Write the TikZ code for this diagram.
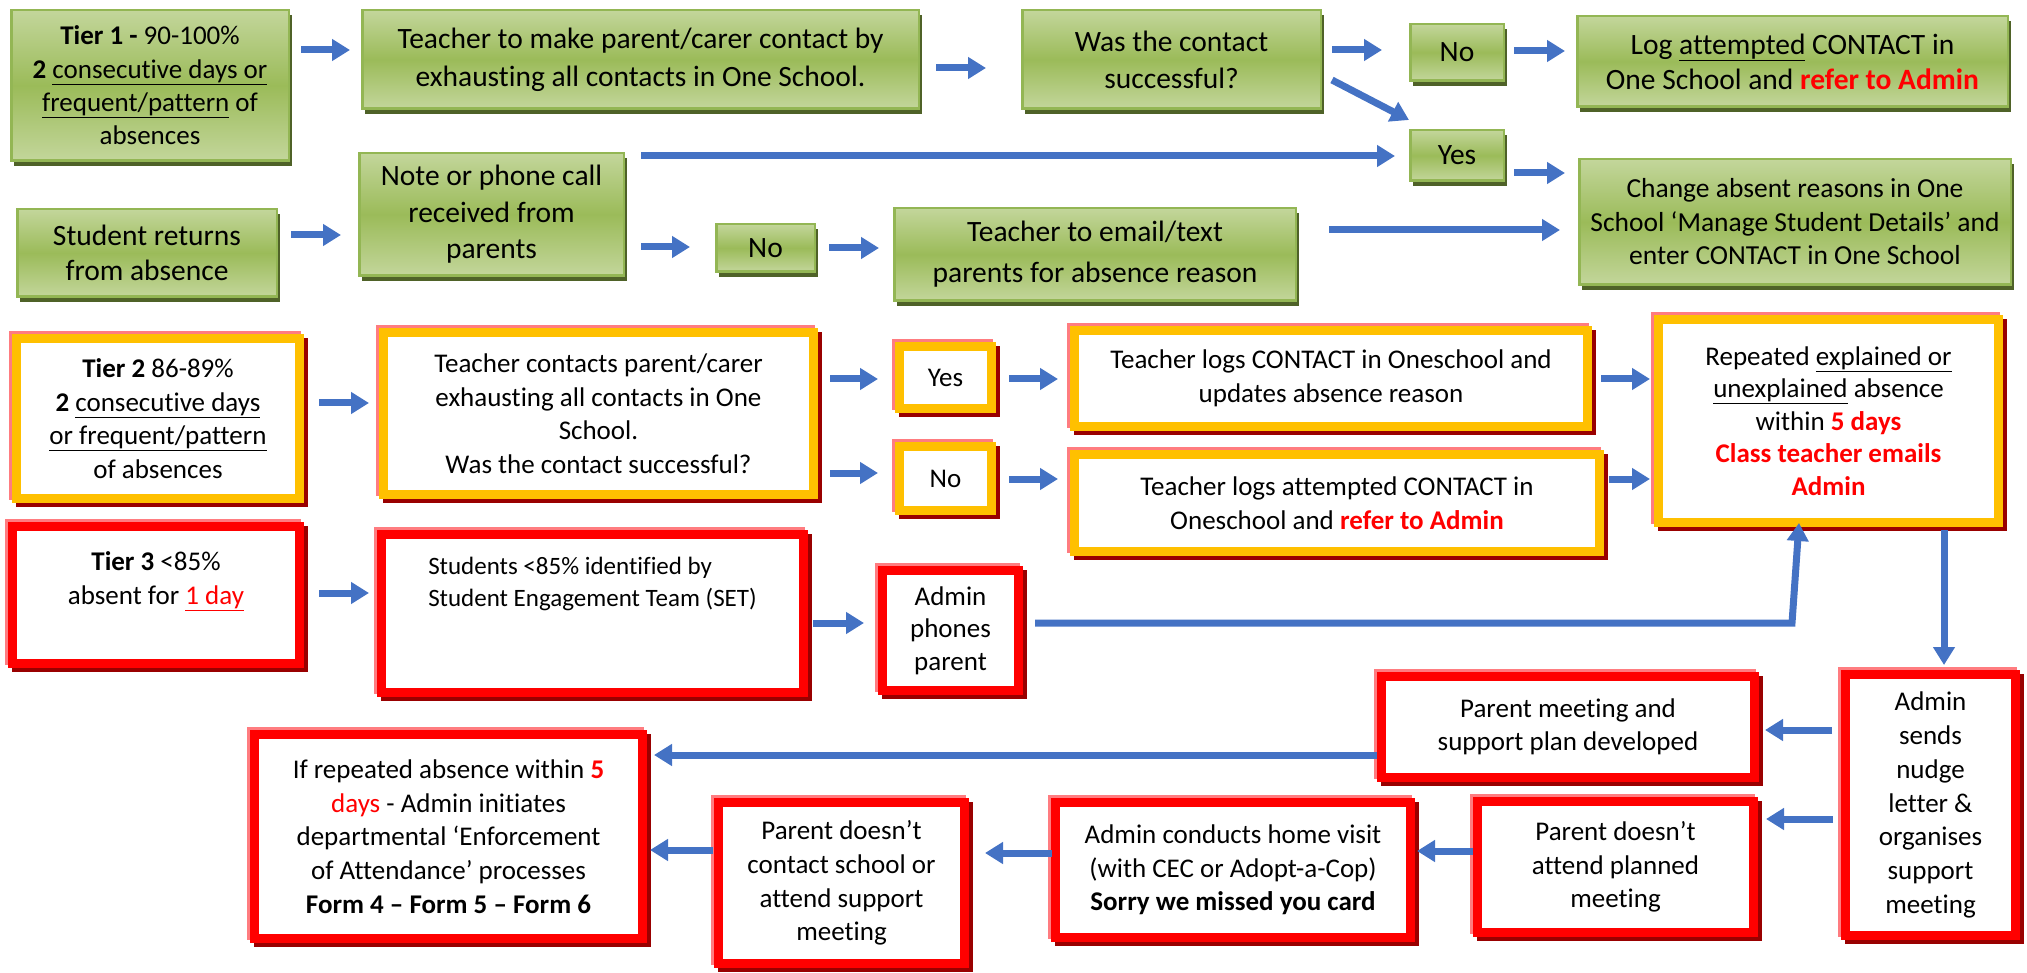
\documentclass[tikz,border=0pt]{standalone}
\usepackage{fontspec}
\setmainfont{Carlito}[Ligatures=NoCommon]
\usetikzlibrary{arrows.meta,calc}
\definecolor{glight}{HTML}{C3D69B}
\definecolor{gmid}{HTML}{9BBB59}
\definecolor{gborder}{HTML}{93B654}
\definecolor{gshadow}{HTML}{4F6228}
\definecolor{orng}{HTML}{FFC000}
\definecolor{pinkl}{HTML}{FF7C80}
\definecolor{dred}{HTML}{990000}
\definecolor{bred}{HTML}{FF0000}
\definecolor{ablue}{HTML}{4472C4}
\tikzset{
  gbox/.style={rectangle, draw=gborder, line width=2.5pt, outer sep=1.25pt, inner sep=0pt,
    top color=glight, bottom color=glight, middle color=gmid, align=center, text=black,
    font=\fontsize{29.5}{37}\selectfont,
    preaction={fill=gshadow, transform canvas={shift={(3pt,-5pt)}}}},
  obox/.style={rectangle, draw=orng, line width=9pt, outer sep=4.5pt, inner sep=0pt,
    fill=white, align=center, text=black,
    font=\fontsize{27}{33.5}\selectfont,
    preaction={draw=pinkl, line width=9pt, transform canvas={shift={(-3pt,3pt)}}},
    preaction={draw=dred, line width=9pt, transform canvas={shift={(4pt,-4pt)}}}},
  rbox/.style={obox, draw=bred},
  conn/.style={draw=ablue, line width=7pt, -{Triangle[length=18pt,width=21pt]}},
}
\newcommand{\rt}[1]{\textcolor{bred}{\textbf{#1}}}
\begin{document}
\begin{tikzpicture}[x=1pt,y=-1pt]
\useasboundingbox (0,0) rectangle (2027,973);
% ---------- green tier 1 area ----------
\node[gbox, minimum width=277.5pt, minimum height=150.5pt, font=\fontsize{27}{33.3}\selectfont] (t1) at (150,85.5)
  {\textbf{Tier 1 -} 90-100\%\\\textbf{2} \underline{consecutive days or}\\\underline{frequent/pattern} of\\absences};
\node[gbox, minimum width=556.5pt, minimum height=98.5pt, font=\fontsize{29.5}{38}\selectfont] (tmake) at (640.5,59.5)
  {Teacher to make parent/carer contact by\\exhausting all contacts in One School.};
\node[gbox, minimum width=298.5pt, minimum height=98.5pt] (was) at (1171.5,59.5)
  {Was the contact\\successful?};
\node[gbox, minimum width=93.5pt, minimum height=56.5pt] (no1) at (1457,52.5) {No};
\node[gbox, minimum width=430.5pt, minimum height=90.5pt, font=\fontsize{29.5}{35}\selectfont] (log) at (1792.5,61.5)
  {Log \underline{attempted} CONTACT in\\One School and \rt{refer to Admin}};
\node[gbox, minimum width=93.5pt, minimum height=50.5pt] (yes1) at (1457,155.5) {Yes};
\node[gbox, minimum width=431.5pt, minimum height=125.5pt, font=\fontsize{27.5}{33.5}\selectfont] (change) at (1795,222)
  {Change absent reasons in One\\School ‘Manage Student Details’ and\\enter CONTACT in One School};
\node[gbox, minimum width=259.5pt, minimum height=87.5pt, font=\fontsize{29.5}{35}\selectfont] (sr) at (147,253)
  {Student returns\\from absence};
\node[gbox, minimum width=264.5pt, minimum height=122.5pt, font=\fontsize{29.5}{36.5}\selectfont] (note) at (491.5,214.5)
  {Note or phone call\\received from\\parents};
\node[gbox, minimum width=98.5pt, minimum height=47.5pt] (no2) at (765.5,248) {No};
\node[gbox, minimum width=401.5pt, minimum height=92.5pt, font=\fontsize{29.5}{41}\selectfont] (email) at (1095,254.5)
  {Teacher to email/text\\parents for absence reason};
% ---------- tier 2 ----------
\node[obox, minimum width=283pt, minimum height=160pt] (t2) at (158,418.5)
  {\textbf{Tier 2} 86-89\%\\\textbf{2} \underline{consecutive days}\\\underline{or frequent/pattern}\\of absences};
\node[obox, minimum width=430pt, minimum height=162pt] (tc) at (598.5,413.5)
  {Teacher contacts parent/carer\\exhausting all contacts in One\\School.\\Was the contact successful?};
\node[obox, minimum width=92pt, minimum height=62pt] (yes2) at (945.5,377.5) {Yes};
\node[obox, minimum width=513pt, minimum height=96pt] (tlogs) at (1331,378.5)
  {Teacher logs CONTACT in Oneschool and\\updates absence reason};
\node[obox, minimum width=92pt, minimum height=64pt] (no3) at (945.5,478.5) {No};
\node[obox, minimum width=525pt, minimum height=97pt] (tlatt) at (1337,503)
  {Teacher logs attempted CONTACT in\\Oneschool and \rt{refer to Admin}};
\node[obox, minimum width=340pt, minimum height=203pt, font=\fontsize{27}{32.5}\selectfont] (rep) at (1828.5,421)
  {Repeated \underline{explained or}\\\underline{unexplained} absence\\within \rt{5 days}\\\rt{Class teacher emails}\\\rt{Admin}};
% ---------- tier 3 ----------
\node[rbox, minimum width=287pt, minimum height=137pt] (t3) at (156,595)
  {\textbf{Tier 3} <85\%\\absent for \textcolor{bred}{\underline{1 day}}\\\mbox{}};
\node[rbox, minimum width=422pt, minimum height=158pt, align=left, font=\fontsize{25}{32}\selectfont] (stu) at (592.5,613.5)
  {Students <85\% identified by\\Student Engagement Team (SET)\\\mbox{}\\\mbox{}};
\node[rbox, minimum width=136pt, minimum height=120pt, font=\fontsize{27}{32.5}\selectfont] (ap) at (950.5,630.5)
  {Admin\\phones\\parent};
\node[rbox, minimum width=373pt, minimum height=101pt] (pm) at (1568,727)
  {Parent meeting and\\support plan developed};
\node[rbox, minimum width=170pt, minimum height=261pt, font=\fontsize{27}{33.7}\selectfont] (ans) at (1930.5,805)
  {Admin\\sends\\nudge\\letter \&\\organises\\support\\meeting};
\node[rbox, minimum width=276pt, minimum height=131pt] (pda) at (1615.5,867)
  {Parent doesn’t\\attend planned\\meeting};
\node[rbox, minimum width=355pt, minimum height=135pt] (ac) at (1233,870)
  {Admin conducts home visit\\(with CEC or Adopt-a-Cop)\\\textbf{Sorry we missed you card}};
\node[rbox, minimum width=246pt, minimum height=161pt, font=\fontsize{27}{33.7}\selectfont] (pdc) at (841.5,883)
  {Parent doesn’t\\contact school or\\attend support\\meeting};
\node[rbox, minimum width=388pt, minimum height=204pt, font=\fontsize{27}{33.7}\selectfont] (ifr) at (448.5,836.5)
  {If repeated absence within \textcolor{bred}{\textbf{5}}\\\textcolor{bred}{days} - Admin initiates\\departmental ‘Enforcement\\of Attendance’ processes\\\textbf{Form 4 – Form 5 – Form 6}};
% ---------- connectors ----------
\draw[conn] ($(t1.east)+(11,-35.5)$) -- ($(tmake.west)+(-11,-9.5)$);
\draw[conn] ($(tmake.east)+(16,8.5)$) -- ($(was.west)+(-35,8.5)$);
\draw[conn] ($(was.east)+(10,-9.5)$) -- ($(no1.west)+(-27,-2.5)$);
\draw[conn] ($(no1.east)+(9,-1.5)$) -- ($(log.west)+(-11,-10.5)$);
\draw[conn] ($(was.east)+(10,20.5)$) -- ($(yes1.north west)+(0,-9)$);
\draw[conn] ($(note.north east)+(16,4)$) -- ($(yes1.west)+(-14,0.5)$);
\draw[conn] ($(yes1.east)+(9,17.5)$) -- ($(change.west)+(-13,-49)$);
\draw[conn] ($(sr.east)+(13,-18)$) -- ($(note.west)+(-17,20.5)$);
\draw[conn] ($(note.east)+(16,32.5)$) -- ($(no2.west)+(-25,-1)$);
\draw[conn] ($(no2.east)+(13,0)$) -- ($(email.west)+(-14,-6.5)$);
\draw[conn] ($(email.east)+(32,-24.5)$) -- ($(change.west)+(-18,8)$);
\draw[conn] ($(t2.east)+(15,-15.5)$) -- ($(tc.west)+(-10,-10.5)$);
\draw[conn] ($(tc.east)+(12,-34.5)$) -- ($(yes2.west)+(-17,1.5)$);
\draw[conn] ($(yes2.east)+(13,1.5)$) -- ($(tlogs.west)+(-12,0.5)$);
\draw[conn] ($(tlogs.east)+(9,0.5)$) -- ($(rep.west)+(-4,-42)$);
\draw[conn] ($(tc.east)+(12,59.5)$) -- ($(no3.west)+(-17,-5.5)$);
\draw[conn] ($(no3.east)+(13,0.5)$) -- ($(tlatt.west)+(-12,-24)$);
\draw[conn] ($(tlatt.east)+(5,-24)$) -- ($(rep.west)+(-4,58)$);
\draw[conn] ($(t3.east)+(15,-2)$) -- ($(stu.west)+(-8,-20.5)$);
\draw[conn] ($(stu.east)+(5,9.5)$) -- ($(ap.west)+(-14,-7.5)$);
\draw[conn] ($(ap.east)+(12,-7.5)$) -- ++(757,0) -- ($(rep.south)+(-29.5,-4)$);
\draw[conn] ($(rep.south)+(115.5,3)$) -- ($(ans.north)+(13.5,-5)$);
\draw[conn] ($(ans.west)+(-9,-75)$) -- ($(pm.east)+(6,3)$);
\draw[conn] ($(pm.west)+(0,28)$) -- ($(ifr.east)+(7,-81.5)$);
\draw[conn] ($(ans.west)+(-8,14)$) -- ($(pda.east)+(8,-48)$);
\draw[conn] ($(pda.west)+(0,-16)$) -- ($(ac.east)+(2,-19)$);
\draw[conn] ($(ac.west)+(1,-17)$) -- ($(pdc.east)+(16,-30)$);
\draw[conn] ($(pdc.west)+(-1,-33)$) -- ($(ifr.east)+(3,13.5)$);
\end{tikzpicture}
\end{document}
